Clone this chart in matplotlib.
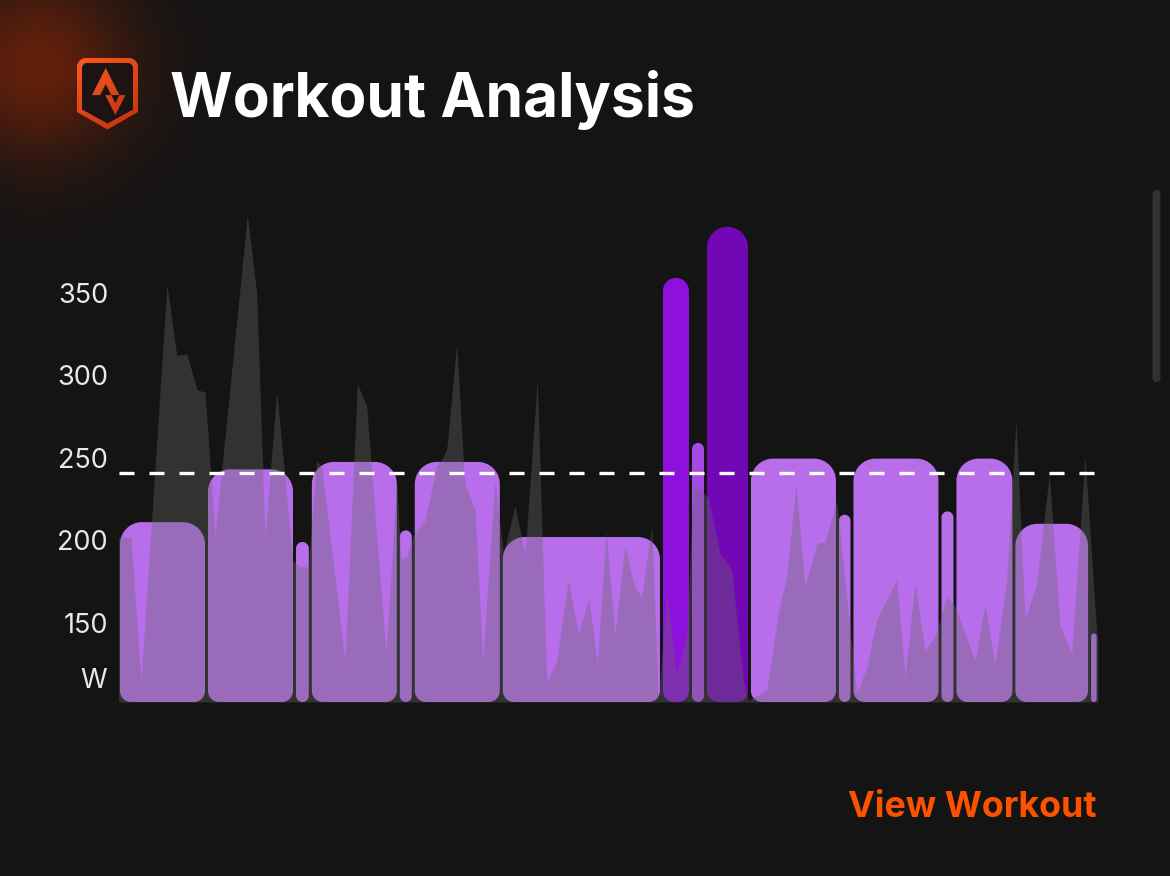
import numpy as np
import matplotlib
matplotlib.use('Agg')
from matplotlib import pyplot as plt
from matplotlib.path import Path
from matplotlib.patches import PathPatch, FancyBboxPatch

# interval blocks (minutes, target watts)
block_minutes = [10, 10, 1.8, 10, 1.7, 10, 18.2, 3.3, 1.7, 5, 10, 1.65, 10, 1.7, 6.7, 8.6, 0.97]
block_watts = [211, 243, 199, 247.5, 206, 247.5, 202, 359, 259, 390, 249.5, 215.5, 249.5, 217.5, 249.5, 210, 143.5]

# recorded power trace (minutes, watts)
trace_min = [0.0, 1.42, 2.56, 5.51, 6.61, 7.75, 8.95, 9.83, 10.97, 14.64, 15.70, 16.65, 17.98,
             19.80, 20.63, 21.53, 22.52, 23.09, 25.74, 27.14, 28.20, 30.40, 31.61, 32.10, 32.78,
             33.47, 34.83, 36.16, 36.73, 37.30, 38.43, 39.18, 39.38, 40.51, 41.39, 42.78, 43.73,
             45.06, 46.19, 47.59, 48.66, 49.80, 51.11, 52.25, 53.47, 54.41, 55.40, 56.42, 57.56,
             58.50, 59.45, 60.59, 61.34, 62.30, 63.43, 64.57, 65.32, 67.02, 68.35, 69.68, 71.00,
             71.57, 72.14, 73.66, 74.98, 75.93, 76.99, 78.01, 79.34, 80.28, 81.61, 83.89, 85.02,
             86.16, 87.67, 88.43, 89.38, 90.51, 91.65, 92.98, 94.11, 95.06, 97.33, 98.47, 99.60,
             100.93, 101.99, 103.01, 104.34, 105.77, 106.99, 108.32, 109.83, 111.16, 111.31]
trace_watts = [202, 202, 115, 355, 312, 313, 291, 290, 203, 397, 350, 202, 290,
               188, 184, 184, 248, 245, 127, 295, 281, 131, 236, 189, 190,
               203, 212, 245, 249, 255, 319, 249, 234, 219, 127, 236, 192,
               221, 191, 297, 114, 127, 176, 143, 165, 125, 206, 143, 197,
               174, 165, 209, 103, 168, 119, 144, 234, 226, 192, 182, 115,
               103, 105, 109, 156, 178, 234, 172, 198, 199, 224, 107, 123,
               152, 168, 176, 117, 174, 133, 144, 166, 160, 127, 161, 125,
               176, 273, 152, 174, 240, 148, 131, 251, 144, 140]

ftp = 241
y_ticks = [150, 200, 250, 300, 350]
unit_label = 'W'

BG = '#141414'
W_PX, H_PX = 1170, 876

fig = plt.figure(figsize=(W_PX / 100, H_PX / 100), dpi=100)
fig.patch.set_facecolor(BG)

# background layer in pixel coords: glow, logo, scrollbar
bg = fig.add_axes([0, 0, 1, 1])
bg.set_xlim(0, W_PX)
bg.set_ylim(H_PX, 0)
bg.axis('off')
yy, xx = np.mgrid[0:H_PX, 0:W_PX]
d = np.hypot(xx - 38, yy - 66)
glow = np.exp(-(d / 92.0) ** 2) * 0.75
base = np.array([20, 20, 20]) / 255
hot = np.array([125, 36, 8]) / 255
img = base[None, None, :] * (1 - glow[..., None]) + hot[None, None, :] * glow[..., None]
bg.imshow(img, extent=(0, W_PX, H_PX, 0), zorder=0, aspect='auto')


def shield(x0, x1, top, side_end, tip, r):
    k = 0.5523
    xm = (x0 + x1) / 2
    verts = [(x0, top + r), (x0, top + r - k * r), (x0 + r - k * r, top), (x0 + r, top),
             (x1 - r, top), (x1 - r + k * r, top), (x1, top + r - k * r), (x1, top + r),
             (x1, side_end), (xm, tip), (x0, side_end), (x0, top + r)]
    codes = [Path.MOVETO, Path.CURVE4, Path.CURVE4, Path.CURVE4, Path.LINETO,
             Path.CURVE4, Path.CURVE4, Path.CURVE4, Path.LINETO, Path.LINETO,
             Path.LINETO, Path.CLOSEPOLY]
    return Path(verts, codes)


grad_y = np.linspace(0, 1, 100)[:, None] * np.ones((1, 100))
grad_x = np.linspace(0, 1, 100)[None, :] * np.ones((100, 1))
t = np.clip(0.6 * grad_y + 0.4 * grad_x, 0, 1)
c_top = np.array([252, 90, 30]) / 255
c_bot = np.array([190, 50, 15]) / 255
grad = c_top[None, None, :] * (1 - t[..., None]) + c_bot[None, None, :] * t[..., None]

outer = PathPatch(shield(77, 138, 58, 112, 129.5, 9), facecolor='none', edgecolor='none')
bg.add_patch(outer)
im = bg.imshow(grad, extent=(77, 138, 130, 58), zorder=2, aspect='auto')
im.set_clip_path(outer)
bg.add_patch(PathPatch(shield(82, 133, 63, 109.5, 123.5, 5), facecolor='#1b1412',
                       edgecolor='none', zorder=3))

# strava-like chevrons
s, ox, oy = 1.96, 92 - 3.463 * 1.96, 68
big = [(10.463, 8.229), (13.299, 13.827), (17.471, 13.827), (10.463, 0), (3.463, 13.828), (7.632, 13.828)]
small = [(15.387, 17.944), (13.298, 13.828), (10.233, 13.828), (15.387, 24), (20.537, 13.828), (17.471, 13.828)]
for poly in (big, small):
    pts = [(ox + px * s, oy + py * s) for px, py in poly]
    p = PathPatch(Path(pts + [pts[0]], [Path.MOVETO] + [Path.LINETO] * (len(pts) - 1) + [Path.CLOSEPOLY]),
                  facecolor='none', edgecolor='none')
    bg.add_patch(p)
    im2 = bg.imshow(grad, extent=(90, 128, 116, 66), zorder=4, aspect='auto')
    im2.set_clip_path(p)

# scrollbar
bg.add_patch(FancyBboxPatch((1152.5, 190), 8, 192, boxstyle='round,pad=0,rounding_size=4',
                            facecolor='#313131', edgecolor='none', zorder=2))

# chart axes
left_px, bottom_px = 118.5, 702
px_per_min, px_per_w = 8.8, 1.65
y_min = 102
x_max = sum(block_minutes)
y_max = y_min + (bottom_px - 200) / px_per_w
ax = fig.add_axes([left_px / W_PX, 1 - bottom_px / H_PX,
                   x_max * px_per_min / W_PX, (y_max - y_min) * px_per_w / H_PX])
ax.set_facecolor('none')
ax.set_xlim(0, x_max)
ax.set_ylim(y_min, y_max)
for sp in ax.spines.values():
    sp.set_visible(False)


def rounded_bar(x0, x1, y0, y1, rt, rb):
    # rt, rb radii in pixels; converted to data units so corners stay circular
    rtx, rty = rt / px_per_min, rt / px_per_w
    rbx, rby = rb / px_per_min, rb / px_per_w
    k = 0.5523
    verts = [(x0 + rbx, y0), (x1 - rbx, y0),
             (x1 - rbx + k * rbx, y0), (x1, y0 + rby - k * rby), (x1, y0 + rby),
             (x1, y1 - rty),
             (x1, y1 - rty + k * rty), (x1 - rtx + k * rtx, y1), (x1 - rtx, y1),
             (x0 + rtx, y1),
             (x0 + rtx - k * rtx, y1), (x0, y1 - rty + k * rty), (x0, y1 - rty),
             (x0, y0 + rby),
             (x0, y0 + rby - k * rby), (x0 + rbx - k * rbx, y0), (x0 + rbx, y0),
             (x0 + rbx, y0)]
    codes = ([Path.MOVETO, Path.LINETO] + [Path.CURVE4] * 3 + [Path.LINETO] + [Path.CURVE4] * 3 +
             [Path.LINETO] + [Path.CURVE4] * 3 + [Path.LINETO] + [Path.CURVE4] * 3 + [Path.CLOSEPOLY])
    return Path(verts, codes)


def bar_color(w):
    if w < 255:
        return '#b86eeb'
    if w < 300:
        return '#a64ae6'
    if w < 370:
        return '#8e10dc'
    return '#7207b6'


gap = 1.5 / px_per_min
start = 0
for dur, w in zip(block_minutes, block_watts):
    x0, x1 = start + gap, start + dur - gap
    wpx = (x1 - x0) * px_per_min
    path = rounded_bar(x0, x1, y_min, w, min(22, wpx / 2), min(11, wpx / 2))
    ax.add_patch(PathPatch(path, facecolor=bar_color(w), edgecolor='none', zorder=2))
    start += dur

ax.fill_between(trace_min, y_min, trace_watts, color='#676767', alpha=0.37, lw=0, zorder=3)
ax.axhline(ftp, color='white', lw=2.4, dashes=(4.5, 4.5), zorder=4)

ax.set_xticks([])
ax.set_yticks(y_ticks)
ax.set_yticklabels([str(v) for v in y_ticks])
ax.tick_params(axis='y', length=0, pad=7.5, labelsize=19.5, labelcolor='#e8e8e8')
for lab in ax.get_yticklabels():
    lab.set_fontfamily('Inter')
ax.text(-11 / px_per_min, y_min + 13, unit_label, ha='right', va='center', fontsize=19.5,
        color='#e8e8e8', family='Inter')

fig.text(170 / W_PX, 1 - 117 / H_PX, 'Workout Analysis', fontsize=43.5, fontweight='bold',
         family='Inter', color='white', ha='left', va='baseline')
fig.text(1096 / W_PX, 1 - 817 / H_PX, 'View Workout', fontsize=25.8, fontweight='bold',
         family='Inter', color='#fc5200', ha='right', va='baseline')

fig.savefig('out.png', dpi=100, facecolor=BG)
